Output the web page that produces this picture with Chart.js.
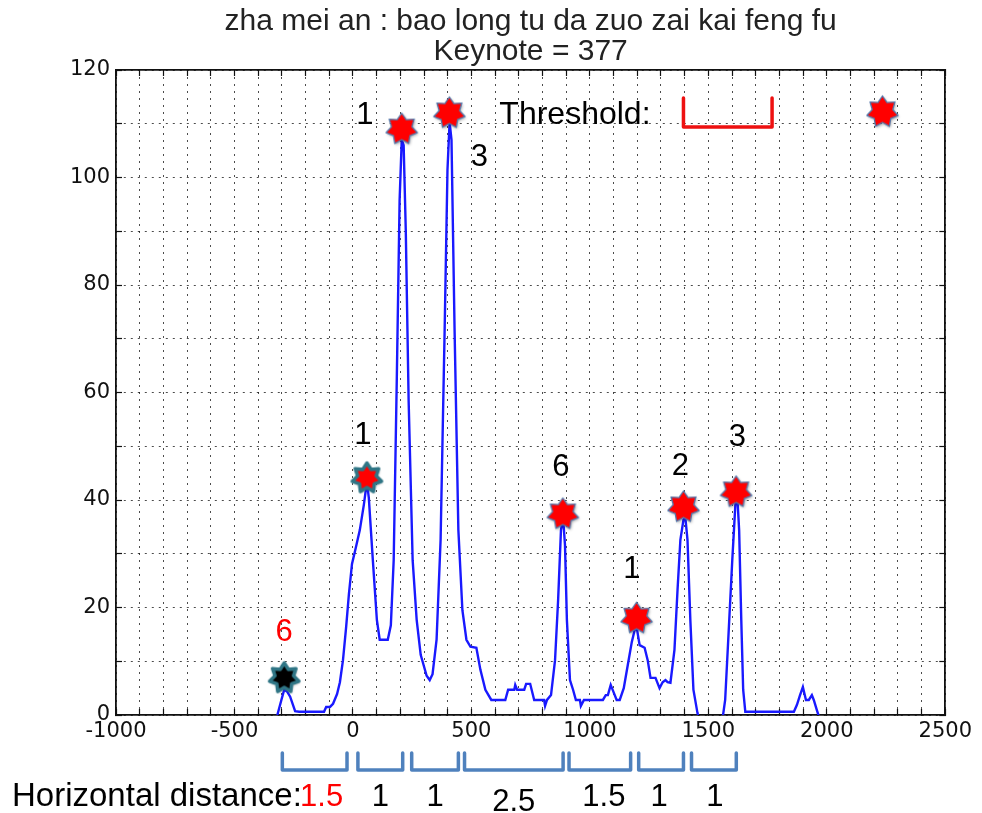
<!DOCTYPE html>
<html><head><meta charset="utf-8">
<script src="https://cdn.jsdelivr.net/npm/chart.js@4"></script>
<style>html,body{margin:0;padding:0;background:#fff}#wrap{width:982px;height:813px;position:relative}</style>
</head><body><div id="wrap"><canvas id="c"></canvas></div>
<script>
// ---------- data ----------
const titleLines = ['zha mei an : bao long tu da zuo zai kai feng fu', 'Keynote = 377'];
const xRange = [-1000, 2500];
const yRange = [0, 120];
const xLabelStep = 500;
const yLabelStep = 20;

const curveX = [-319,-302,-290,-277,-265,-244,-227,-122,-113,-97,-84,-67,-55,-42,-29,-17,-4,13,29,46,59,67,84,101,113,147,160,172,185,197,206,214,223,235,252,269,286,311,324,336,353,370,387,399,408,416,429,445,462,479,496,521,538,559,584,643,655,681,685,693,723,731,748,765,807,811,819,836,853,866,878,887,895,903,916,929,941,958,962,975,1055,1067,1076,1088,1105,1113,1126,1143,1160,1177,1189,1198,1210,1231,1244,1256,1277,1294,1307,1319,1328,1340,1357,1370,1382,1395,1403,1412,1424,1437,1454,1462,1559,1571,1584,1601,1614,1622,1630,1639,1647,1656,1861,1874,1887,1899,1912,1924,1937,1945,1958,1966];
const curveY = [0,2.8,4.7,4.3,3.4,0.7,0.6,0.6,1.5,1.5,2.1,3.9,6.1,10.2,16.2,22.5,28.1,31.3,34.4,39.1,43.4,40.4,28.8,17.7,14,14,16.7,28.8,62.3,95.8,107,106,90.2,58.6,28.8,17.7,11.2,7.3,6.5,7.6,14,32.6,71.6,101.4,110.3,107,71.6,34.4,19.5,14,12.7,12.5,8.4,4.7,2.8,2.8,4.7,4.7,5.6,4.7,4.7,5.8,5.8,2.8,2.8,1.7,2.8,3.7,10.2,21.4,34.4,36.7,31.6,17.7,6.5,4.7,2.8,2.8,1.7,2.8,2.8,3.7,3.7,5.6,3.7,2.8,2.8,5,9.3,13.6,15.8,16.2,13,12.5,10.2,6.9,6.9,5,6.1,6.5,6.1,6,12.1,23.3,32.6,36.3,36.7,32.6,17.7,4.7,0.4,-1,-1,2.8,14,28.8,39.1,40.9,34.4,17.7,4.7,0.6,0.6,1.9,3.7,5.2,2.8,2.8,3.7,2.8,0.9,-0.2];

// detected notes (stars): position and kind
const starX = [-290, 59, 206, 407, 886, 1197, 1395, 1617, 2235];
const starY = [6.9, 44.1, 109, 112, 37.4, 18, 38.7, 41.5, 112.2];
const starKind = ['dark', 'ring', 'plain', 'plain', 'plain', 'plain', 'plain', 'plain', 'plain'];

// note-number labels
const noteText = ['6', '1', '1', '3', '6', '1', '2', '3'];
const noteX = [-290, 42, 50, 534, 878, 1177, 1382, 1622];
const noteY = [15.3, 52.1, 111.6, 103.8, 46.1, 27, 46.3, 51.7];
const noteRed = [true, false, false, false, false, false, false, false];

// threshold legend
const thresholdText = 'Threshold:';
const thresholdTextAt = [618, 111.6];
const thresholdSpan = [1395, 1769];
const thresholdTopBottom = [114.8, 109.4];

// horizontal distances
const distLead = 'Horizontal distance:';
const distFrom = [-298, 21, 248, 471, 912, 1206, 1429];
const distTo = [-25, 210, 445, 887, 1172, 1395, 1618];
const distLabels = ['1.5', '1', '1', '2.5', '1.5', '1', '1'];
const distRed = [true, false, false, false, false, false, false];

// ---------- styles ----------
const distLabelDx = [7, 0, 0, 0, 4, -2, 1];
const distLabelDy = [0, 0, 0, 5, 0, 0, 0];
const SANS = '"Liberation Sans", Arial, sans-serif';
const TICKFONT = '"DejaVu Sans", sans-serif';

function makeStar(fill, stroke, strokeW, R, r) {
  const pad = strokeW + 4;
  const size = Math.ceil(2 * (R + pad));
  const c = document.createElement('canvas');
  c.width = c.height = size;
  const g = c.getContext('2d');
  g.translate(size / 2, size / 2);
  g.beginPath();
  for (let i = 0; i < 14; i++) {
    const a = -Math.PI / 2 + i * Math.PI / 7;
    const rr = i % 2 ? r : R;
    g.lineTo(rr * Math.cos(a), rr * Math.sin(a));
  }
  g.closePath();
  g.save();
  g.shadowColor = 'rgba(0,0,0,0.35)';
  g.shadowBlur = 3; g.shadowOffsetX = 1; g.shadowOffsetY = 1.5;
  g.fillStyle = fill; g.fill();
  g.restore();
  g.lineJoin = 'round';
  g.lineWidth = strokeW; g.strokeStyle = stroke; g.stroke();
  return c;
}
const starImgs = {
  plain: makeStar('#ff0000', '#5577aa', 1.3, 16, 10.5),
  ring: makeStar('#ff0000', '#2f7585', 3.5, 15, 9.5),
  dark: makeStar('#000000', '#2f7585', 3.5, 15, 9.5)
};

const annotations = {
  id: 'annotations',
  afterDraw(chart) {
    const { ctx, chartArea } = chart;
    const sx = chart.scales.x, sy = chart.scales.y;
    ctx.save();
    // note numbers
    ctx.textAlign = 'center';
    ctx.textBaseline = 'middle';
    ctx.font = '31px ' + SANS;
    noteText.forEach((t, i) => {
      ctx.fillStyle = noteRed[i] ? '#ff0000' : '#000000';
      ctx.fillText(t, sx.getPixelForValue(noteX[i]), sy.getPixelForValue(noteY[i]));
    });
    // threshold
    ctx.textAlign = 'left';
    ctx.font = '32px ' + SANS;
    ctx.fillStyle = '#000';
    ctx.fillText(thresholdText, sx.getPixelForValue(thresholdTextAt[0]), sy.getPixelForValue(thresholdTextAt[1]));
    ctx.strokeStyle = '#ee1111';
    ctx.lineWidth = 3.5;
    ctx.lineJoin = 'round'; ctx.lineCap = 'round';
    const tx1 = sx.getPixelForValue(thresholdSpan[0]), tx2 = sx.getPixelForValue(thresholdSpan[1]);
    const ty1 = sy.getPixelForValue(thresholdTopBottom[0]), ty2 = sy.getPixelForValue(thresholdTopBottom[1]);
    ctx.beginPath();
    ctx.moveTo(tx1, ty1); ctx.lineTo(tx1, ty2); ctx.lineTo(tx2, ty2); ctx.lineTo(tx2, ty1);
    ctx.stroke();
    // distance brackets
    const b = chartArea.bottom;
    ctx.strokeStyle = '#4f81bd';
    ctx.lineWidth = 3.5;
    distFrom.forEach((f, i) => {
      const x1 = sx.getPixelForValue(f), x2 = sx.getPixelForValue(distTo[i]);
      ctx.beginPath();
      ctx.moveTo(x1, b + 38); ctx.lineTo(x1, b + 55); ctx.lineTo(x2, b + 55); ctx.lineTo(x2, b + 38);
      ctx.stroke();
    });
    ctx.font = '33px ' + SANS;
    ctx.textAlign = 'left';
    ctx.fillStyle = '#000';
    ctx.fillText(distLead, 12, b + 82);
    ctx.textAlign = 'center';
    ctx.font = '31px ' + SANS;
    distLabels.forEach((t, i) => {
      const cx = (sx.getPixelForValue(distFrom[i]) + sx.getPixelForValue(distTo[i])) / 2;
      ctx.fillStyle = distRed[i] ? '#ff0000' : '#000';
      ctx.fillText(t, cx + distLabelDx[i], b + 82 + distLabelDy[i]);
    });
    ctx.restore();
  }
};

const gridDash = [2, 5];
function axisCommon(min, max, step, labelStep, showLabels, pad) {
  return {
    type: 'linear', min, max,
    grid: { color: 'rgba(0,0,0,0.7)', lineWidth: 1, tickLength: -6, tickColor: '#111', tickWidth: 1.2, tickBorderDash: [] },
    border: { display: true, color: '#111', width: 1.8, dash: gridDash },
    ticks: {
      display: showLabels, stepSize: step, autoSkip: false, maxRotation: 0, padding: pad,
      color: '#111', font: { family: TICKFONT, size: 21 },
      callback: v => (v % labelStep === 0 ? String(v) : '')
    }
  };
}

const xAxis = axisCommon(xRange[0], xRange[1], 100, xLabelStep, true, 10);
xAxis.position = 'bottom';
xAxis.afterFit = s => { s.height = 30; };
const yAxis = axisCommon(yRange[0], yRange[1], 10, yLabelStep, true, 12);
yAxis.position = 'left';
yAxis.afterFit = s => { s.width = 116; };
const x2Axis = axisCommon(xRange[0], xRange[1], 100, xLabelStep, false, 0);
x2Axis.position = 'top';
x2Axis.grid.drawOnChartArea = false;
x2Axis.afterFit = s => { s.height = 0; };
const y2Axis = axisCommon(yRange[0], yRange[1], 10, yLabelStep, false, 0);
y2Axis.position = 'right';
y2Axis.grid.drawOnChartArea = false;
y2Axis.afterFit = s => { s.width = 0; };

new Chart(document.getElementById('c'), {
  type: 'scatter',
  data: {
    datasets: [
      {
        label: 'notes',
        data: starX.map((x, i) => ({ x, y: starY[i] })),
        pointStyle: starKind.map(k => starImgs[k]),
        pointRadius: 16,
        showLine: false,
        clip: false
      },
      {
        label: 'pitch',
        data: curveX.map((x, i) => ({ x, y: curveY[i] })),
        showLine: true,
        borderColor: 'rgb(25,25,255)',
        borderWidth: 2.4,
        pointRadius: 0,
        tension: 0,
        clip: 0
      }
    ]
  },
  options: {
    responsive: true,
    maintainAspectRatio: false,
    animation: false,
    devicePixelRatio: 1,
    layout: { padding: { left: 0, right: 33, top: 0, bottom: 68 } },
    plugins: {
      legend: { display: false },
      tooltip: { enabled: false },
      title: {
        display: true,
        fullSize: false,
        text: titleLines,
        color: '#222',
        font: { family: SANS, size: 30, weight: 'normal', lineHeight: 1 },
        padding: { top: 7, bottom: 3 }
      }
    },
    scales: { x: xAxis, y: yAxis, x2: x2Axis, y2: y2Axis }
  },
  plugins: [annotations]
});
</script>
</body></html>
